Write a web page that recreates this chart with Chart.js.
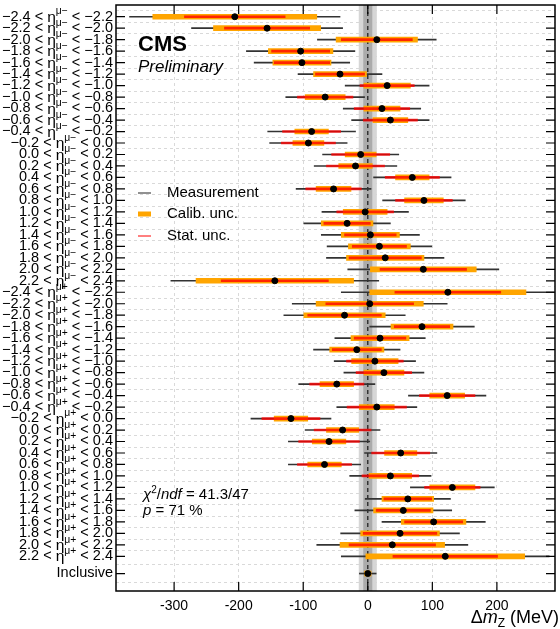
<!DOCTYPE html>
<html><head><meta charset="utf-8">
<script src="https://cdn.jsdelivr.net/npm/chart.js@4.4.1/dist/chart.umd.min.js"></script>
<style>html,body{margin:0;padding:0;background:#fff}#wrap{width:560px;height:629px;position:relative}</style>
</head><body><div id="wrap"><canvas id="c" width="560" height="629"></canvas></div>
<script>
// ---- data ----
const etaEdges = ['−2.4','−2.2','−2.0','−1.8','−1.6','−1.4','−1.2','−1.0','−0.8','−0.6','−0.4','−0.2','0.0','0.2','0.4','0.6','0.8','1.0','1.2','1.4','1.6','1.8','2.0','2.2','2.4'];
const muonCharges = ['−','+'];
const inclusiveLabel = 'Inclusive';
// category rows (top to bottom): η(μ−) bins, η(μ+) bins, inclusive
const rowPositions = [0,1,2,3,4,5,6,7,8,9,10,11,12,13,14,15,16,17,18,19,20,21,22,23,
                      24,25,26,27,28,29,30,31,32,33,34,35,36,37,38,39,40,41,42,43,44,45,46,47,48.5];
// Δm_Z central values (MeV)
const centralValues = [-206,-156,14,-104,-102,-43,30,-66,22,35,-87,-92,-11,-19,69,-53,87,-4,-32,4,18,27,86,-144,
                       124,3,-36,84,19,-17,11,25,-48,123,14,-119,-39,-60,51,-67,35,131,62,55,102,50,38,120,0];
// statistical uncertainty (MeV)
const statUnc = [78,66,55,45,43,38,42,43,43,42,45,42,45,45,42,43,44,44,36,40,42,56,67,83,
                 82,68,57,43,40,38,44,43,42,43,46,45,44,47,45,42,44,43,37,42,45,57,67,81,3];
// calibration uncertainty (MeV)
const calibUnc = [127,83,63,50,45,41,36,31,28,27,26,24,24,26,26,27,30,34,40,45,48,60,82,122,
                  121,83,63,48,45,42,36,31,26,27,27,26,25,26,25,26,33,35,40,46,50,61,81,123,5];
// total uncertainty (MeV)
const totalUnc = [163,117,92,84,74,65,65,61,60,60,68,60,59,64,60,58,64,67,67,76,81,91,117,161,
                  165,120,94,81,70,67,63,62,59,60,62,62,58,63,56,56,63,65,66,75,80,92,117,161,13];
const xTickValues = [-300,-200,-100,0,100,200];
const xRange = [-390, 290];
const inclusiveBandOuter = 14;
const inclusiveBandInner = 7;
const chi2Text = {chi2: '41.3', ndf: '47', p: '71'};

// ---- build ----
const categories = [];
muonCharges.forEach(q => {
  for (let i = 0; i < etaEdges.length - 1; i++) categories.push({lo: etaEdges[i], hi: etaEdges[i+1], q});
});
categories.push({inclusive: true});

const rng = (w) => centralValues.map((c, i) => ({y: rowPositions[i], x: [c - w[i], c + w[i]]}));
const points = centralValues.map((c, i) => ({x: c, y: rowPositions[i]}));

const FONT = '"Liberation Sans", Arial, sans-serif';

const custom = {
  id: 'custom',
  beforeDatasetsDraw(chart) {
    const {ctx, chartArea: a, scales: {x}} = chart;
    ctx.save();
    const o1 = x.getPixelForValue(-inclusiveBandOuter), o2 = x.getPixelForValue(inclusiveBandOuter);
    const i1 = x.getPixelForValue(-inclusiveBandInner), i2 = x.getPixelForValue(inclusiveBandInner);
    ctx.fillStyle = '#d6d6d6';
    ctx.fillRect(o1, a.top, o2 - o1, a.bottom - a.top);
    ctx.fillStyle = '#ababab';
    ctx.fillRect(i1, a.top, i2 - i1, a.bottom - a.top);
    const z = x.getPixelForValue(0);
    ctx.setLineDash([4, 3]);
    ctx.strokeStyle = '#222';
    ctx.lineWidth = 1.3;
    ctx.beginPath(); ctx.moveTo(z, a.top); ctx.lineTo(z, a.bottom); ctx.stroke();
    ctx.restore();
  },
  afterDraw(chart) {
    const {ctx, chartArea: a, scales: {x, y}} = chart;
    ctx.save();
    // frame
    ctx.strokeStyle = '#000'; ctx.lineWidth = 1.5; ctx.setLineDash([]);
    ctx.strokeRect(a.left, a.top, a.right - a.left, a.bottom - a.top);
    // inward ticks
    ctx.lineWidth = 1.2;
    ctx.beginPath();
    xTickValues.forEach(v => {
      const px = x.getPixelForValue(v);
      ctx.moveTo(px, a.bottom); ctx.lineTo(px, a.bottom - 9);
      ctx.moveTo(px, a.top); ctx.lineTo(px, a.top + 9);
    });
    rowPositions.forEach(v => {
      const py = y.getPixelForValue(v);
      ctx.moveTo(a.left, py); ctx.lineTo(a.left + 9, py);
      ctx.moveTo(a.right, py); ctx.lineTo(a.right - 9, py);
    });
    ctx.stroke();

    // y labels
    ctx.fillStyle = '#000';
    ctx.textBaseline = 'middle';
    ctx.textAlign = 'left';
    const mainF = '14px ' + FONT, supF = '10px ' + FONT;
    const partsFor = (c) => c.inclusive ? [{t: inclusiveLabel, f: mainF, dy: 0}] : [
      {t: c.lo + ' < ', f: mainF, dy: 0},
      {t: 'η', f: '15px ' + FONT, dy: 1},
      {t: 'μ' + c.q, f: supF, dy: -5},
      {t: ' < ' + c.hi, f: mainF, dy: 0}
    ];
    const widthOf = (parts) => parts.reduce((s, p) => { ctx.font = p.f; return s + ctx.measureText(p.t).width; }, 0);
    const refW = widthOf(partsFor(categories[0]));
    const sx = 111 / refW;
    categories.forEach((c, i) => {
      const parts = partsFor(c);
      const w = widthOf(parts);
      const py = y.getPixelForValue(rowPositions[i]);
      ctx.save();
      ctx.translate(113, py);
      ctx.scale(sx, 1);
      let cx = -w;
      parts.forEach(p => { ctx.font = p.f; ctx.fillText(p.t, cx, p.dy); cx += ctx.measureText(p.t).width; });
      ctx.restore();
    });

    // CMS label
    ctx.textBaseline = 'alphabetic';
    ctx.font = 'bold 22px ' + FONT;
    ctx.fillText('CMS', 138, 51);
    ctx.font = 'italic 17px ' + FONT;
    ctx.fillText('Preliminary', 138, 72);

    // legend
    ctx.lineWidth = 1; ctx.strokeStyle = '#222';
    ctx.beginPath(); ctx.moveTo(138, 193); ctx.lineTo(151, 193); ctx.stroke();
    ctx.lineWidth = 5; ctx.strokeStyle = '#ffa500';
    ctx.beginPath(); ctx.moveTo(138, 214); ctx.lineTo(151, 214); ctx.stroke();
    ctx.lineWidth = 1; ctx.strokeStyle = '#ff0000';
    ctx.beginPath(); ctx.moveTo(138, 236); ctx.lineTo(151, 236); ctx.stroke();
    ctx.font = '15px ' + FONT;
    ctx.textBaseline = 'middle';
    ctx.fillText('Measurement', 167, 193);
    ctx.fillText('Calib. unc.', 167, 214);
    ctx.fillText('Stat. unc.', 167, 236);

    // chi2
    const drawSeq = (seq, x0, y0) => {
      let cx = x0;
      seq.forEach(p => { ctx.font = p.f; ctx.fillText(p.t, cx, y0 + (p.dy || 0)); cx += ctx.measureText(p.t).width; });
    };
    const nF = '15px ' + FONT, iF = 'italic 15px ' + FONT, sF = '10px ' + FONT;
    drawSeq([{t: 'χ', f: iF}, {t: '2', f: sF, dy: -5}, {t: '/', f: nF}, {t: 'ndf', f: iF}, {t: ' = ' + chi2Text.chi2 + '/' + chi2Text.ndf, f: nF}], 143, 495);
    drawSeq([{t: 'p', f: iF}, {t: ' = ' + chi2Text.p + ' %', f: nF}], 143, 511);

    // x axis title
    const tSeq = [{t: 'Δ', f: '18px ' + FONT}, {t: 'm', f: 'italic 18px ' + FONT}, {t: 'Z', f: '12px ' + FONT, dy: 4}, {t: ' (MeV)', f: '18px ' + FONT}];
    const tw = tSeq.reduce((s, p) => { ctx.font = p.f; return s + ctx.measureText(p.t).width; }, 0);
    ctx.textBaseline = 'alphabetic';
    drawSeq(tSeq, 559 - tw, 623);
    ctx.restore();
  }
};

new Chart(document.getElementById('c'), {
  type: 'bar',
  data: {
    datasets: [
      {type: 'scatter', label: 'points', data: points, order: 0, pointRadius: 3, pointBackgroundColor: '#000', pointBorderColor: '#000', showLine: false},
      {label: 'Stat. unc.', data: rng(statUnc), order: 1, backgroundColor: 'rgba(255,0,0,0.78)', barThickness: 2, grouped: false, borderWidth: 0},
      {label: 'Calib. unc.', data: rng(calibUnc), order: 2, backgroundColor: '#ffa500', barThickness: 5, grouped: false, borderWidth: 0},
      {label: 'Measurement', data: rng(totalUnc), order: 3, backgroundColor: '#333', barThickness: 1, grouped: false, borderWidth: 0}
    ]
  },
  options: {
    indexAxis: 'y',
    responsive: false,
    devicePixelRatio: 1,
    animation: false,
    layout: {padding: {top: 5, right: 2, left: 0, bottom: 0}},
    plugins: {legend: {display: false}, tooltip: {enabled: false}},
    scales: {
      x: {
        type: 'linear', min: xRange[0], max: xRange[1],
        afterBuildTicks: (s) => { s.ticks = xTickValues.map(v => ({value: v})); },
        afterFit: (s) => { s.height = 38; },
        grid: {color: '#d9d9d9', lineWidth: 1, drawTicks: false},
        border: {display: false, dash: [3, 3]},
        ticks: {font: {family: FONT, size: 14}, color: '#000', padding: 7, maxRotation: 0}
      },
      y: {
        type: 'linear', reverse: true, min: -0.5, max: 49.5,
        afterBuildTicks: (s) => { s.ticks = rowPositions.map(v => ({value: v})); },
        afterFit: (s) => { s.width = 116; },
        grid: {color: '#d9d9d9', lineWidth: 1, drawTicks: false},
        border: {display: false, dash: [3, 3]},
        ticks: {display: false}
      }
    }
  },
  plugins: [custom]
});
</script>
</body></html>
